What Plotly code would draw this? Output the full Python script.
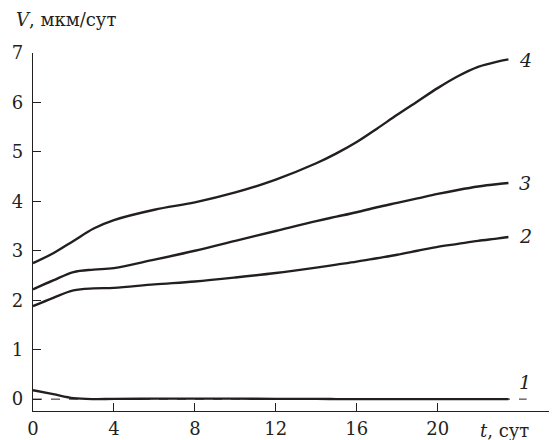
import plotly.graph_objects as go

t = [0, 1, 2, 3, 4, 6, 8, 10, 12, 14, 15, 16, 17, 18, 19, 20, 21, 22, 23, 23.5]
v1 = [0.18, 0.10, 0.02, 0.0, 0.005, 0.01, 0.01, 0.01, 0.005, 0.005, 0.0, 0.0, 0.0, 0.0, 0.0, 0.0, 0.0, 0.0, 0.0, 0.0]
v2 = [1.88, 2.05, 2.2, 2.24, 2.25, 2.32, 2.38, 2.46, 2.55, 2.66, 2.72, 2.78, 2.85, 2.92, 3.0, 3.08, 3.14, 3.2, 3.25, 3.28]
v3 = [2.22, 2.4, 2.57, 2.62, 2.65, 2.82, 3.0, 3.2, 3.4, 3.6, 3.69, 3.78, 3.88, 3.97, 4.06, 4.15, 4.23, 4.3, 4.35, 4.37]
v4 = [2.75, 2.95, 3.2, 3.45, 3.62, 3.83, 3.98, 4.18, 4.44, 4.77, 4.97, 5.2, 5.47, 5.75, 6.02, 6.29, 6.53, 6.72, 6.83, 6.87]
series = [("1", v1), ("2", v2), ("3", v3), ("4", v4)]
x_ticks = [0, 4, 8, 12, 16, 20]
y_ticks = [0, 1, 2, 3, 4, 5, 6, 7]

ink = "#231f20"
font = "DejaVu Serif"

fig = go.Figure()
# zero baseline (dashed)
fig.add_trace(go.Scatter(x=[0, 24.4], y=[0, 0], mode="lines",
                         line=dict(color=ink, width=1, dash="dash"),
                         showlegend=False, hoverinfo="skip"))
for name, v in series:
    fig.add_trace(go.Scatter(x=t, y=v, mode="lines", name=name,
                             line=dict(color=ink, width=2.4, shape="spline", smoothing=1.0),
                             showlegend=False))

label_y = {"1": 0.35, "2": 3.3, "3": 4.38, "4": 6.85}
for name, v in series:
    fig.add_annotation(x=t[-1], y=label_y[name], text="<i>%s</i>" % name,
                       showarrow=False, xanchor="left", xshift=9, yanchor="middle",
                       font=dict(family=font, size=19, color=ink))

fig.add_annotation(xref="paper", yref="paper", x=0, xshift=-19, y=1.0, yshift=46,
                   text="<i>V</i>, мкм/сут", showarrow=False, xanchor="left", yanchor="top",
                   font=dict(family=font, size=18, color=ink))
fig.add_annotation(xref="paper", yref="paper", x=0.849, y=0, yshift=-19,
                   text="<i>t</i>, сут", showarrow=False, xanchor="left", yanchor="middle",
                   font=dict(family=font, size=18, color=ink))

fig.update_layout(
    width=549, height=432,
    margin=dict(l=25, r=0, t=45, b=29, autoexpand=False),
    paper_bgcolor="white", plot_bgcolor="white",
    font=dict(family=font, size=18, color=ink),
    xaxis=dict(range=[0, 25.9], tickvals=x_ticks, ticks="inside", ticklen=8,
               tickwidth=1.3, tickcolor=ink, showline=True, linecolor=ink, linewidth=1.3,
               showgrid=False, zeroline=False, ticklabelstandoff=1,
               tickfont=dict(size=18, family=font, color=ink)),
    yaxis=dict(range=[-0.24, 7], tickvals=y_ticks, ticks="inside", ticklen=8,
               tickwidth=1.3, tickcolor=ink, showline=True, linecolor=ink, linewidth=1.3,
               showgrid=False, zeroline=False, ticklabelstandoff=5,
               tickfont=dict(size=18, family=font, color=ink)),
)

fig.write_html("out.html")
